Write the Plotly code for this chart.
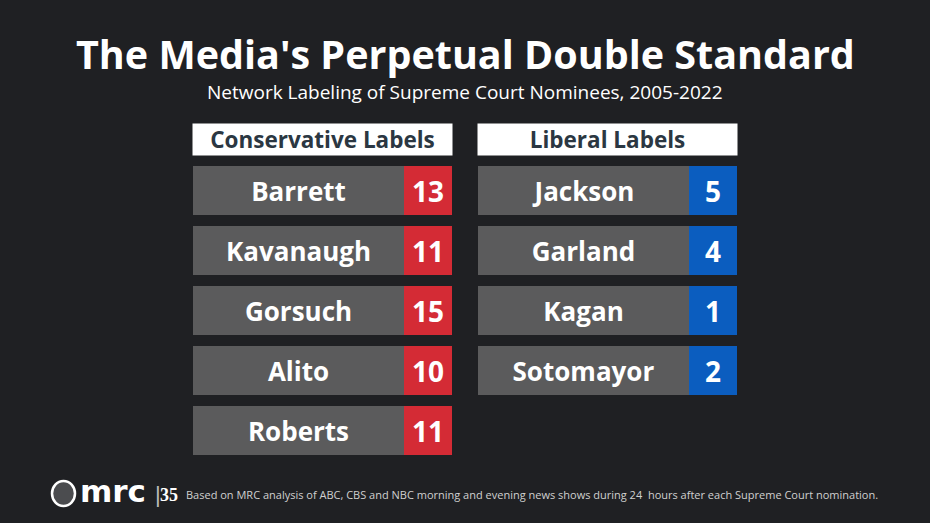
import plotly.graph_objects as go
from plotly.subplots import make_subplots

# data
conservative_names = ["Barrett", "Kavanaugh", "Gorsuch", "Alito", "Roberts"]
conservative_labels = [13, 11, 15, 10, 11]
liberal_names = ["Jackson", "Garland", "Kagan", "Sotomayor"]
liberal_labels = [5, 4, 1, 2]

title = "The Media's Perpetual Double Standard"
subtitle = "Network Labeling of Supreme Court Nominees, 2005-2022"
source = "Based on MRC analysis of ABC, CBS and NBC morning and evening news shows during 24  hours after each Supreme Court nomination."

W, H = 930, 523
BG = "#1f2023"
GRAY = "rgba(112,112,112,0.74)"
RED = "#d42b35"
BLUE = "#0b5dbf"
HEAD_TXT = "#2b3742"

# widths in pixels (x axis in px units)
name_w = 211
box_w = 48
col_w = name_w + box_w

left_x0, right_x0 = 193, 478
row_top, row_pitch = 160.5, 60
n_slots = 5


def py(px):
    return 1 - px / H


fig = make_subplots(rows=1, cols=2)

for col, names, vals, color in [(1, conservative_names, conservative_labels, RED),
                                (2, liberal_names, liberal_labels, BLUE)]:
    fig.add_trace(go.Bar(y=names, x=[name_w] * len(names), base=0, orientation="h",
                         marker=dict(color=GRAY, line_width=0),
                         text=names, textposition="inside", insidetextanchor="middle",
                         constraintext="none",
                         textfont=dict(family="Open Sans", size=26, color="white", weight="bold"),
                         hoverinfo="skip", showlegend=False),
                  row=1, col=col)
    fig.add_trace(go.Bar(y=names, x=[box_w] * len(names), base=name_w, orientation="h",
                         marker=dict(color=color, line_width=0),
                         text=[str(v) for v in vals], textposition="inside", insidetextanchor="middle",
                         constraintext="none",
                         textfont=dict(family="Open Sans", size=28, color="white", weight="bold"),
                         hoverinfo="skip", showlegend=False),
                  row=1, col=col)

ydom = [py(row_top + row_pitch * n_slots), py(row_top)]
for i, x0 in enumerate([left_x0, right_x0], start=1):
    fig.update_xaxes(domain=[x0 / W, (x0 + col_w) / W], range=[0, col_w], visible=False,
                     fixedrange=True, row=1, col=i)
    fig.update_yaxes(domain=ydom, range=[n_slots - 0.5, -0.5], visible=False,
                     fixedrange=True, row=1, col=i)

fig.update_layout(barmode="overlay", bargap=11 / 60)

annotations = [
    dict(text="<b>" + title + "</b>", x=0.5, y=py(54), font=dict(family="Open Sans", size=39.5, color="white")),
    dict(text=subtitle, x=0.5, y=py(92), font=dict(family="Open Sans", size=19, color="white")),
]
for x0, label in [(left_x0, "Conservative Labels"), (right_x0, "Liberal Labels")]:
    annotations.append(dict(text="<b>" + label + "</b>", x=(x0 + col_w / 2) / W, y=py(139.5),
                            width=col_w, height=31, bgcolor="white", borderpad=0,
                            font=dict(family="Open Sans", size=22.5, color=HEAD_TXT)))
# footer
annotations += [
    dict(text="<b>mrc</b>", x=78 / W, y=py(491), xanchor="left",
         font=dict(family="DejaVu Sans", size=31, color="white")),
    dict(text="|", x=153 / W, y=py(494), xanchor="left",
         font=dict(family="Liberation Sans", size=22, color="#bbbbbb")),
    dict(text="<b>35</b>", x=158 / W, y=py(495), xanchor="left",
         font=dict(family="Liberation Serif", size=18, color="white")),
    dict(text=source, x=184 / W, y=py(494), xanchor="left",
         font=dict(family="Open Sans", size=11, color="#d0d0d0")),
]
for a in annotations:
    a.setdefault("xref", "paper")
    a.setdefault("yref", "paper")
    a.setdefault("showarrow", False)
    a.setdefault("yanchor", "middle")
fig.update_layout(annotations=annotations)

# badge for the logo
fig.add_shape(type="circle", xref="paper", yref="paper",
              x0=52 / W, x1=75 / W, y0=py(506), y1=py(481),
              line=dict(color="white", width=2.5), fillcolor="rgba(255,255,255,0.2)")

fig.update_layout(width=W, height=H, margin=dict(l=0, r=0, t=0, b=0),
                  paper_bgcolor=BG, plot_bgcolor="rgba(0,0,0,0)")

fig.write_html("out.html", config={"displayModeBar": False},
               post_script="document.body.style.margin='0';document.body.style.overflow='hidden';")
